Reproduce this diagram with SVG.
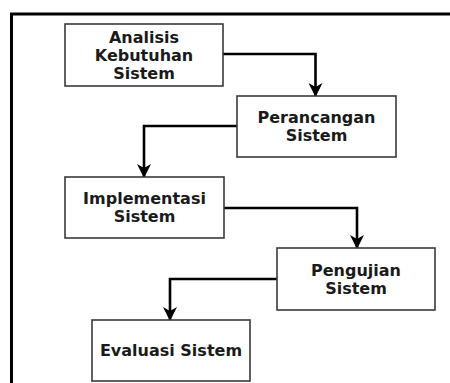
<svg xmlns="http://www.w3.org/2000/svg" width="450" height="383" viewBox="0 0 450 383">
  <style>
    .box { fill: #ffffff; stroke: #3a3a3a; stroke-width: 1.6; }
    .lbl { font-family: "DejaVu Sans", Verdana, sans-serif; font-weight: bold; font-size: 16px; fill: #1a1a1a; text-anchor: middle; }
    .conn { fill: none; stroke: #000000; stroke-width: 2.6; }
    .frame { fill: none; stroke: #000000; stroke-width: 3; }
  </style>
  <defs>
    <marker id="arrow" viewBox="0 0 14 14" refX="13" refY="7" markerWidth="14" markerHeight="14" markerUnits="userSpaceOnUse" orient="auto">
      <path d="M0,0 L14,7 L0,14 L4,7 Z" fill="#000000"/>
    </marker>
  </defs>
  <rect width="450" height="383" fill="#ffffff"/>

  <!-- outer frame (top and left edges) -->
  <path class="frame" d="M11.5,383 V14 H450"/>

  <!-- connectors -->
  <g id="connectors">
    <path class="conn" d="M223,54 H315.5 V96" marker-end="url(#arrow)"/>
    <path class="conn" d="M237,126 H144 V177" marker-end="url(#arrow)"/>
    <path class="conn" d="M224,208 H357 V248" marker-end="url(#arrow)"/>
    <path class="conn" d="M277,279 H170 V320" marker-end="url(#arrow)"/>
  </g>

  <g id="analisis">
    <rect class="box" x="65" y="24" width="158" height="62"/>
    <text class="lbl" x="144" y="42.8">Analisis</text>
    <text class="lbl" x="144" y="60.8">Kebutuhan</text>
    <text class="lbl" x="144" y="78.8">Sistem</text>
  </g>

  <g id="perancangan">
    <rect class="box" x="237" y="96" width="159" height="61"/>
    <text class="lbl" x="316.5" y="122.5">Perancangan</text>
    <text class="lbl" x="316.5" y="141">Sistem</text>
  </g>

  <g id="implementasi">
    <rect class="box" x="65" y="177" width="159" height="61"/>
    <text class="lbl" x="144.5" y="203.5">Implementasi</text>
    <text class="lbl" x="144.5" y="222">Sistem</text>
  </g>

  <g id="pengujian">
    <rect class="box" x="277" y="248" width="158" height="62"/>
    <text class="lbl" x="356" y="275.5">Pengujian</text>
    <text class="lbl" x="356" y="294">Sistem</text>
  </g>

  <g id="evaluasi">
    <rect class="box" x="92" y="320" width="158" height="61"/>
    <text class="lbl" x="171" y="356.3">Evaluasi Sistem</text>
  </g>
</svg>
